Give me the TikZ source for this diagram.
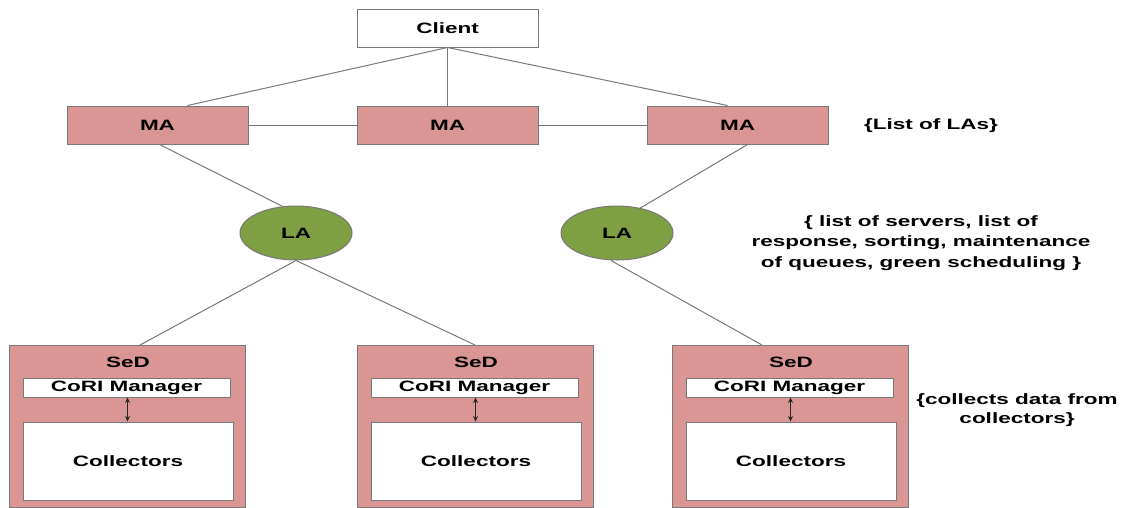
\documentclass[tikz,border=0pt]{standalone}
\usepackage{fontspec}
\setmainfont{Liberation Sans}[FakeStretch=1.5]
\usetikzlibrary{shapes.geometric,arrows.meta}
\definecolor{agentpink}{HTML}{DA9694}
\definecolor{agentgreen}{HTML}{7F9F43}
\definecolor{edgegray}{HTML}{787878}
\begin{document}
\begin{tikzpicture}[x=1pt,y=-1pt,
  every node/.style={font=\bfseries\fontsize{15}{17}\selectfont, inner sep=0pt},
  whitebox/.style={draw=edgegray, line width=1pt, fill=white, rectangle},
  mabox/.style={draw=edgegray, line width=1pt, fill=agentpink, rectangle,
    minimum width=181pt, minimum height=38pt},
  labox/.style={draw=edgegray, line width=1pt, fill=agentgreen, ellipse,
    minimum width=112pt, minimum height=54pt},
  sedbox/.style={draw=edgegray, line width=1pt, fill=agentpink, rectangle,
    minimum width=236pt, minimum height=162pt, anchor=north},
  corbox/.style={whitebox, minimum width=207pt, minimum height=19pt},
  colbox/.style={whitebox, minimum width=210pt, minimum height=78pt},
  link/.style={draw=edgegray, line width=1pt},
  biarrow/.style={draw=black!85, line width=0.8pt, {Stealth[length=5.5pt,width=5pt]}-{Stealth[length=5.5pt,width=5pt]}},
  note/.style={align=center, font=\bfseries\fontsize{15}{20.5}\selectfont}
]
\useasboundingbox (0,0) rectangle (1131,507);

% client and master agents
\node[whitebox, minimum width=181pt, minimum height=38pt] (client) at (447.5,28) {Client};
\node[mabox] (ma1) at (157.5,125) {MA};
\node[mabox] (ma2) at (447.5,125) {MA};
\node[mabox] (ma3) at (737.5,125) {MA};

\draw[link] (client.south) -- ([xshift=30pt]ma1.north);
\draw[link] (client.south) -- (ma2.north);
\draw[link] (client.south) -- ([xshift=-10pt]ma3.north);
\draw[link] (ma1.east) -- (ma2.west);
\draw[link] (ma2.east) -- (ma3.west);

% local agents
\node[labox] (la1) at (296,233) {LA};
\node[labox] (la2) at (617,233) {LA};

\draw[link] ([xshift=2pt]ma1.south) -- (la1.117);
\draw[link] ([xshift=10pt]ma3.south) -- (la2.47);

% server daemons
\foreach \i/\x in {1/127, 2/475, 3/790} {
  \node[sedbox] (sed\i) at (\x,345) {};
  \node (sedlabel\i) at (\x+1,362) {SeD};
  \node[corbox] (cori\i) at (\x-0.5,387.5) {CoRI Manager};
  \node[colbox] (coll\i) at (\x+1,461) {Collectors};
  \draw[biarrow] ([xshift=1pt]cori\i.south) -- ([xshift=-0.5pt]coll\i.north);
}

\draw[link] (la1.south) -- ([xshift=13pt]sed1.north);
\draw[link] (la1.south) -- (sed2.north);
\draw[link] ([xshift=-6pt]la2.south) -- ([xshift=-28pt]sed3.north);

% annotations
\node[note] (notema) at (931,126) {\{List of LAs\}};
\node[note] (notela) at (921,243) {\{ list of servers, list of\\response, sorting, maintenance\\of queues, green scheduling \}};
\node[note, font=\bfseries\fontsize{15}{19}\selectfont] (notesed) at (1017,410) {\{collects data from\\collectors\}};
\end{tikzpicture}
\end{document}
